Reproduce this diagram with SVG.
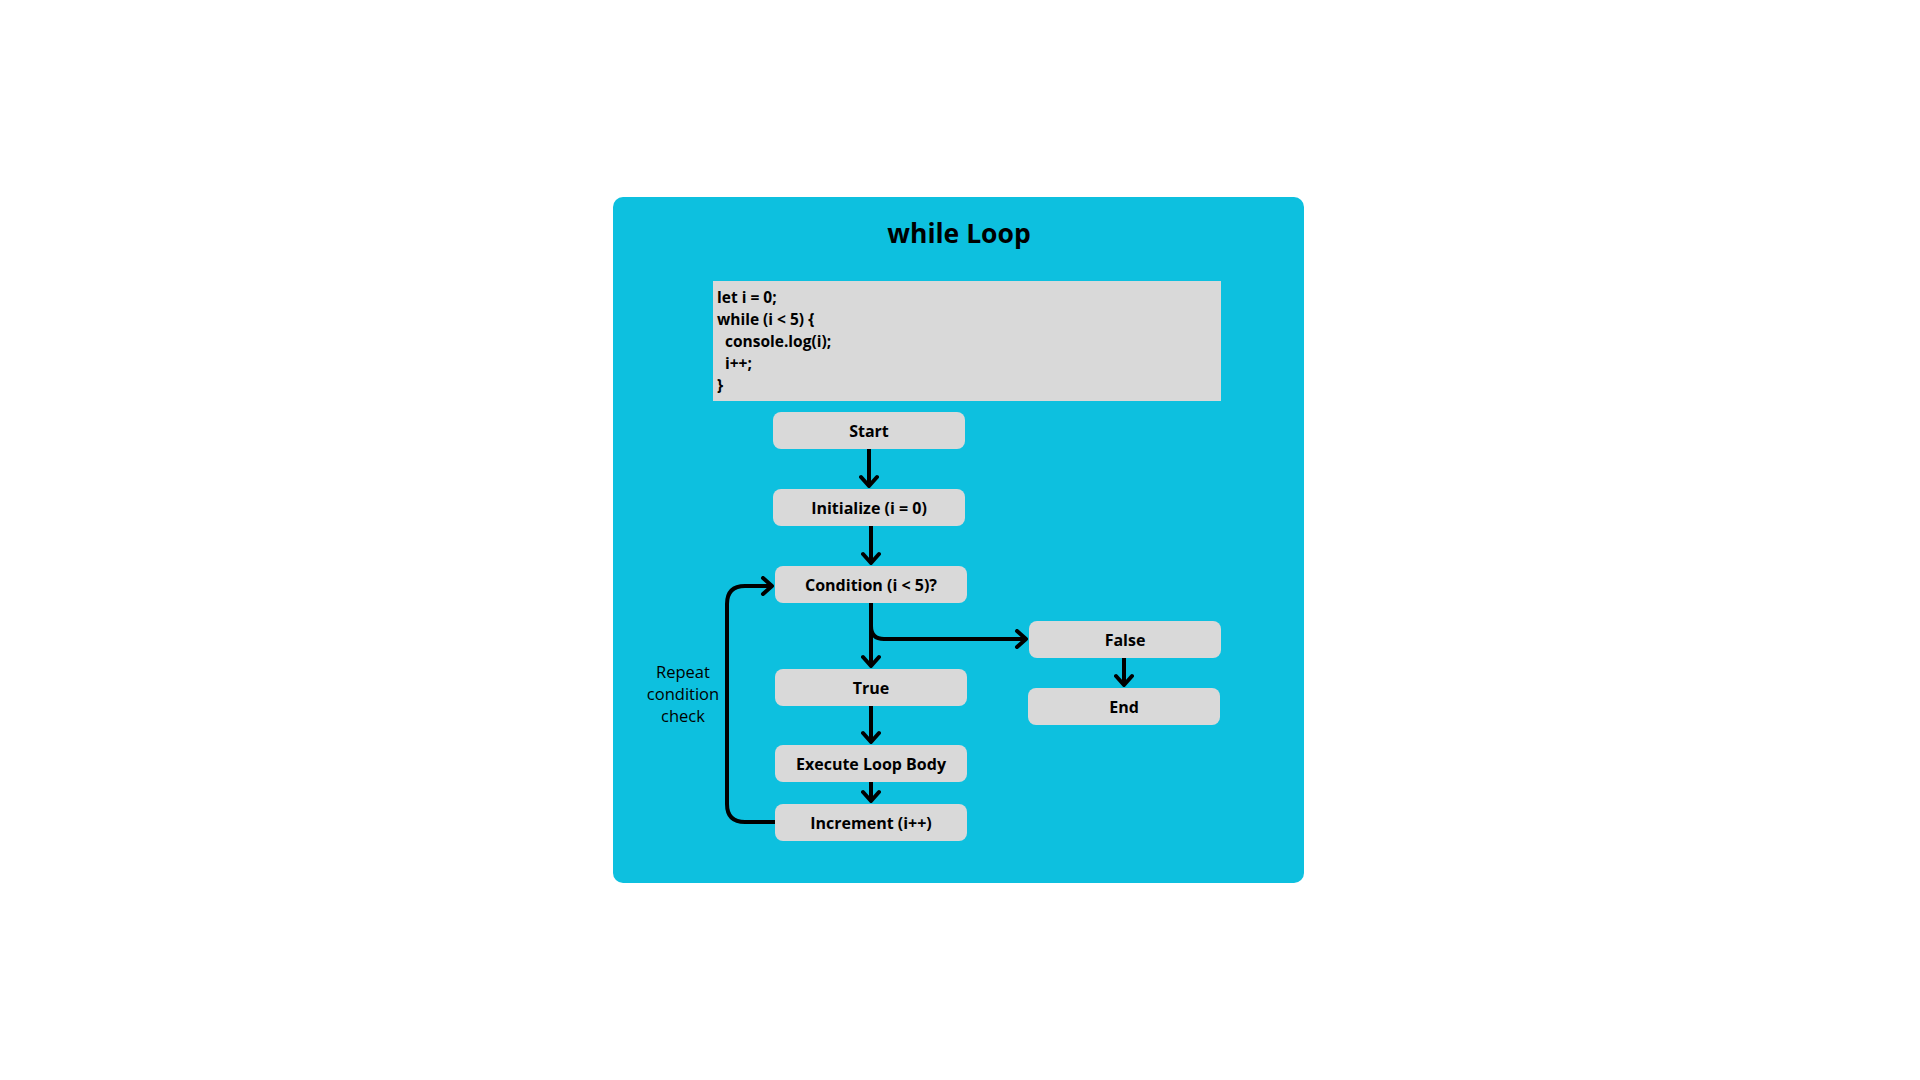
<svg xmlns="http://www.w3.org/2000/svg" width="1920" height="1080" viewBox="0 0 1920 1080">
<style>
.panel{fill:#0dc0df}
.node{fill:#d9d9d9}
.lbl{font-family:"Open Sans","Liberation Sans",sans-serif;font-weight:bold;font-size:16px;fill:#000;text-anchor:middle}
.code{font-family:"Open Sans","Liberation Sans",sans-serif;font-weight:bold;font-size:15.5px;fill:#000}
.title{font-family:"Open Sans","Liberation Sans",sans-serif;font-weight:bold;font-size:26.5px;fill:#000;text-anchor:middle}
.note{font-family:"Open Sans","Liberation Sans",sans-serif;font-size:16.5px;fill:#000;text-anchor:middle}
.conn{fill:none;stroke:#000;stroke-width:4;stroke-linejoin:round}
</style>
<defs>
<marker id="arr" viewBox="-12 -10 14 20" refX="0" refY="0" markerWidth="14" markerHeight="20" markerUnits="userSpaceOnUse" orient="auto">
<path d="M-9,-8 L0,0 L-9,8" fill="none" stroke="#000" stroke-width="4" stroke-linecap="round" stroke-linejoin="round"/>
</marker>
</defs>
<rect width="1920" height="1080" fill="#fff"/>
<rect class="panel" x="613" y="197" width="691" height="686" rx="10"/>
<text class="title" x="959" y="243">while Loop</text>
<g id="code">
<rect class="node" x="713" y="281" width="508" height="120"/>
<text class="code" x="717" y="303">let i = 0;</text>
<text class="code" x="717" y="325">while (i &lt; 5) {</text>
<text class="code" x="725" y="347">console.log(i);</text>
<text class="code" x="725" y="369">i++;</text>
<text class="code" x="717" y="391">}</text>
</g>
<g id="connectors">
<path class="conn" d="M869,449 V486" marker-end="url(#arr)"/>
<path class="conn" d="M871,526 V563" marker-end="url(#arr)"/>
<path class="conn" d="M871,603 V666" marker-end="url(#arr)"/>
<path class="conn" d="M871,603 V626 Q871,639 884,639 H1026" marker-end="url(#arr)"/>
<path class="conn" d="M1124,658 V685" marker-end="url(#arr)"/>
<path class="conn" d="M871,706 V742" marker-end="url(#arr)"/>
<path class="conn" d="M871,782 V801" marker-end="url(#arr)"/>
<path class="conn" d="M775,822 H745 Q727,822 727,804 V604 Q727,586 745,586 H772" marker-end="url(#arr)"/>
</g>
<g id="start"><rect class="node" x="773" y="412" width="192" height="37" rx="8"/><text class="lbl" x="869" y="437">Start</text></g>
<g id="init"><rect class="node" x="773" y="489" width="192" height="37" rx="8"/><text class="lbl" x="869" y="514">Initialize (i = 0)</text></g>
<g id="cond"><rect class="node" x="775" y="566" width="192" height="37" rx="8"/><text class="lbl" x="871" y="591">Condition (i &lt; 5)?</text></g>
<g id="false"><rect class="node" x="1029" y="621" width="192" height="37" rx="8"/><text class="lbl" x="1125" y="646">False</text></g>
<g id="end"><rect class="node" x="1028" y="688" width="192" height="37" rx="8"/><text class="lbl" x="1124" y="713">End</text></g>
<g id="true"><rect class="node" x="775" y="669" width="192" height="37" rx="8"/><text class="lbl" x="871" y="694">True</text></g>
<g id="exec"><rect class="node" x="775" y="745" width="192" height="37" rx="8"/><text class="lbl" x="871" y="770">Execute Loop Body</text></g>
<g id="incr"><rect class="node" x="775" y="804" width="192" height="37" rx="8"/><text class="lbl" x="871" y="829">Increment (i++)</text></g>
<g id="note"><text class="note" x="683" y="678">Repeat</text><text class="note" x="683" y="700">condition</text><text class="note" x="683" y="722">check</text></g>
</svg>
